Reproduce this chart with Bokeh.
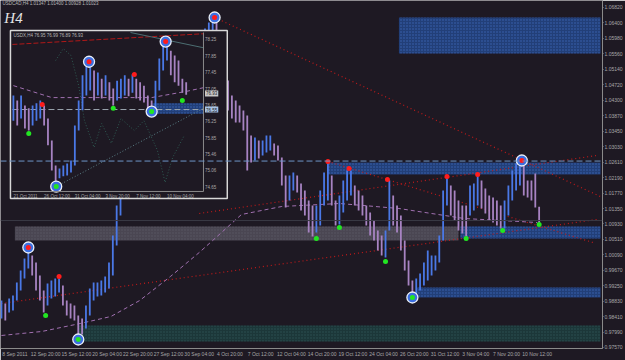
from bokeh.plotting import figure
from bokeh.models import Range1d, FixedTicker, PrintfTickFormatter, Span, Label
from bokeh.embed import file_html
from bokeh.resources import INLINE
from bokeh.core.properties import value

BG = "#1e1923"
UP = "#4a78e6"
DOWN = "#a783c2"
TXT = "#a8a8a8"
FONT = "Liberation Sans"

# ---------------- USDCAD H4 (main chart), every second bar ----------------
bars = list(range(0, 282, 2))
highs = [0.98848, 0.98767, 0.98903, 0.98984, 0.99338, 0.99664, 0.99991, 1.00209, 1.00073, 0.99882,
         0.99528, 0.99120, 0.99311, 0.99392, 0.99447, 0.99447, 0.99256, 0.98848, 0.98767, 0.98712,
         0.98440, 0.98359, 0.98712, 0.99175, 0.99338, 0.99338, 0.99392, 0.99501, 0.99882, 1.00617,
         1.01433, 1.02113, 1.02521, 1.02929, 1.03201, 1.03473, 1.03337, 1.03745, 1.04017, 1.04289,
         1.04425, 1.04562, 1.04834, 1.04698, 1.04970, 1.05106, 1.05378, 1.05242, 1.05514, 1.05650,
         1.05786, 1.05922, 1.06058, 1.06248, 1.06412, 1.06520, 1.06466, 1.06058, 1.05378, 1.04834,
         1.04425, 1.04289, 1.04153, 1.04017, 1.03881, 1.03337, 1.03283, 1.03201, 1.03201, 1.03337,
         1.03337, 1.03120, 1.03065, 1.02739, 1.02249, 1.02249, 1.02331, 1.02249, 1.02031, 1.01841,
         1.01569, 1.01433, 1.01433, 1.01841, 1.02331, 1.02575, 1.02249, 1.01569, 1.01705, 1.02113,
         1.02385, 1.02385, 1.01977, 1.01841, 1.01705, 1.01433, 1.01242, 1.01025, 1.00753, 1.00617,
         1.00753, 1.02113, 1.01705, 1.01433, 1.01161, 1.00481, 0.99936, 0.99392, 0.99447, 0.99583,
         0.99882, 1.00209, 1.00073, 1.00073, 1.00617, 1.01841, 1.02222, 1.01977, 1.01841, 1.01569,
         1.01433, 1.01433, 1.01977, 1.02031, 1.02249, 1.02113, 1.01895, 1.01705, 1.01650, 1.01569,
         1.01433, 1.01569, 1.01977, 1.02385, 1.02575, 1.02603, 1.02521, 1.02113, 1.02113, 1.02303,
         1.01400]
lows = [0.98359, 0.98304, 0.98522, 0.98576, 0.98848, 0.99120, 0.99447, 0.99719, 0.99528, 0.99120,
        0.98848, 0.98522, 0.98712, 0.98903, 0.98957, 0.99066, 0.98712, 0.98440, 0.98359, 0.98304,
        0.97869, 0.97923, 0.98086, 0.98440, 0.98848, 0.98957, 0.98984, 0.99066, 0.99175, 0.99528,
        1.00345, 1.01161, 1.01705, 1.02113, 1.02385, 1.02657, 1.02521, 1.02929, 1.03201, 1.03473,
        1.03609, 1.03881, 1.04017, 1.04017, 1.04289, 1.04425, 1.04562, 1.04562, 1.04834, 1.04970,
        1.05106, 1.05242, 1.05378, 1.05650, 1.05786, 1.05922, 1.05786, 1.05106, 1.04425, 1.04017,
        1.03800, 1.03691, 1.03691, 1.03473, 1.02385, 1.02603, 1.02657, 1.02712, 1.02793, 1.02875,
        1.02929, 1.02793, 1.02657, 1.01977, 1.01378, 1.01569, 1.01841, 1.01786, 1.01297, 1.01161,
        1.00698, 1.00589, 1.00698, 1.00889, 1.01433, 1.01569, 1.01433, 1.00889, 1.00916, 1.01242,
        1.01569, 1.01705, 1.01433, 1.01297, 1.01161, 1.00889, 1.00617, 1.00481, 1.00209, 1.00073,
        1.00018, 1.00753, 1.00889, 1.00698, 1.00209, 0.99664, 0.99256, 0.98984, 0.99039, 0.99120,
        0.99256, 0.99392, 0.99528, 0.99664, 0.99882, 1.00481, 1.01433, 1.01161, 1.01025, 1.00753,
        1.00671, 1.00589, 1.01161, 1.01297, 1.01433, 1.01351, 1.01215, 1.01025, 1.00970, 1.00889,
        1.00807, 1.00807, 1.01161, 1.01569, 1.01841, 1.01977, 1.01705, 1.01650, 1.01569, 1.01378,
        1.00928]

date_ticks = list(range(0, 273, 16))
date_labels = ["8 Sep 2011", "12 Sep 20:00", "15 Sep 12:00", "20 Sep 04:00", "22 Sep 20:00",
               "27 Sep 12:00", "30 Sep 04:00", "4 Oct 20:00", "7 Oct 12:00", "12 Oct 04:00",
               "14 Oct 20:00", "19 Oct 12:00", "24 Oct 04:00", "26 Oct 20:00", "31 Oct 12:00",
               "3 Nov 04:00", "7 Nov 20:00", "10 Nov 12:00"]
price_ticks = [1.06820, 1.06400, 1.05980, 1.05560, 1.05140, 1.04720, 1.04300, 1.03870, 1.03450,
               1.03030, 1.02610, 1.02190, 1.01770, 1.01350, 1.00930, 1.00510, 1.00090, 0.99670,
               0.99250, 0.98830, 0.98410, 0.97990, 0.97570]
header = "USDCAD,H4  1.01347 1.01400 1.00928 1.01023"
last_close = 1.01023
resistance = 1.02642

# moving average
ma_x = [0, 21, 41, 57, 72, 88, 103, 110, 125, 146, 176, 207, 241, 279]
ma_y = [0.97896, 0.98005, 0.98222, 0.98413, 0.98848, 0.99501, 1.00154, 1.00481, 1.01188, 1.01406,
        1.01487, 1.01351, 1.01079, 1.00970]

# dotted trend lines
tl_x0 = [0, 111, 170, 103]
tl_y0 = [0.98767, 1.06547, 1.02630, 1.01215]
tl_x1 = [310, 313, 308, 310]
tl_y1 = [1.01052, 1.01650, 1.00426, 1.02793]

# zones
zone_l = [207, 170, 7, 239, 216, 40]
zone_r = [312, 312, 238, 312, 312, 312]
zone_t = [1.06547, 1.02603, 1.00862, 1.00862, 0.99202, 0.98168]
zone_b = [1.05568, 1.02276, 1.00481, 1.00535, 0.98930, 0.97733]
zone_kind = ["blue", "blue", "grey", "blue", "blue", "teal"]

# swing markers
red_x = [30, 170, 181, 201, 232, 248]
red_y = [0.99501, 1.02630, 1.02439, 1.02140, 1.02222, 1.02276]
green_x = [23, 164, 176, 200, 242, 261, 280]
green_y = [0.98440, 1.00535, 1.00834, 0.99909, 1.00535, 1.00753, 1.00916]
ring_hi_x = [14, 111, 271]
ring_hi_y = [1.00290, 1.06547, 1.02657]
ring_lo_x = [40, 214]
ring_lo_y = [0.97787, 0.98930]

# ---------------- USDX H4 (inset) ----------------
ibars = list(range(0, 92, 2))
ihighs = [76.88, 76.76, 76.88, 76.64, 76.57, 76.64, 76.69, 76.76, 76.64, 76.32, 75.79, 75.18, 75.11,
          75.18, 75.23, 75.30, 76.15, 76.76, 77.37, 77.68, 77.61, 77.49, 77.44, 77.29, 77.37, 77.20,
          77.05, 77.24, 77.29, 77.37, 77.29, 77.39, 77.29, 77.20, 77.12, 76.88, 76.76, 77.24, 77.78,
          78.09, 78.17, 77.97, 77.85, 77.73, 77.29, 77.20]
ilows = [76.27, 76.15, 76.32, 76.08, 76.03, 76.15, 76.27, 76.32, 76.15, 75.67, 75.06, 74.75, 74.87,
         74.92, 74.94, 75.01, 75.18, 76.03, 76.52, 76.88, 77.00, 76.76, 76.88, 76.81, 76.88, 76.76,
         76.64, 76.76, 76.81, 76.88, 76.86, 76.95, 76.81, 76.76, 76.71, 76.57, 76.52, 76.57, 77.00,
         77.49, 77.73, 77.37, 77.20, 77.12, 76.95, 76.90]
i_header = "USDX,H4  76.95 76.99 76.89 76.93"
i_ticks = [78.25, 77.85, 77.45, 77.05, 76.65, 76.25, 75.85, 75.46, 75.06, 74.65]
i_dates_x = [0, 16, 32, 48, 64, 80]
i_dates = ["21 Oct 2011", "26 Oct 12:00", "31 Oct 04:00", "3 Nov 20:00", "7 Nov 12:00", "10 Nov 04:00"]
i_close = 76.93
i_level = 76.54
i_ma_x = [0, 20, 46, 72, 90, 99]
i_ma_y = [77.12, 76.83, 76.83, 76.83, 76.98, 77.07]
i_red_x = [15, 63]
i_red_y = [76.66, 77.39]
i_green_x = [8, 52, 88]
i_green_y = [75.96, 76.57, 76.76]
i_ring_hi_x = [39.4, 79.3]
i_ring_hi_y = [77.70, 78.19]
i_ring_lo_x = [22.3, 72]
i_ring_lo_y = [74.67, 76.49]
i_zone = (72.5, 99, 76.69, 76.44)
i_osc_x = [22, 26, 30, 34, 37, 42, 46, 51, 56, 63, 68, 75, 79, 83, 89]
i_osc_y = [77.73, 78.02, 77.85, 77.12, 76.27, 75.62, 76.20, 75.72, 76.32, 76.03, 76.27, 75.55, 74.77,
           75.38, 75.91]

# ---------------- figure ----------------
p = figure(width=625, height=360, x_range=Range1d(-0.5, 313.0), y_range=Range1d(0.97542, 1.07010),
           y_axis_location="right", output_backend="svg", toolbar_location=None,
           background_fill_color=BG, border_fill_color=BG, min_border_left=0, min_border_top=0,
           min_border_right=20, min_border_bottom=12)
p.grid.visible = False
p.outline_line_color = None

p.yaxis.ticker = FixedTicker(ticks=price_ticks)
p.yaxis.formatter = PrintfTickFormatter(format="%.5f")
p.xaxis.ticker = FixedTicker(ticks=[t + 7 for t in date_ticks])
p.xaxis.major_label_overrides = {t + 7: lab for t, lab in zip(date_ticks, date_labels)}
for ax in (p.xaxis, p.yaxis):
    ax.major_label_text_font = FONT
    ax.major_label_text_font_size = "5px"
    ax.major_label_text_color = TXT
    ax.axis_line_color = "#8a8a8a"
    ax.major_tick_line_color = "#8a8a8a"
    ax.major_tick_out = 1
    ax.major_tick_in = 0
    ax.minor_tick_line_color = None
    ax.major_label_standoff = 1
p.xaxis.major_tick_line_color = None

zc = {"blue": ("#223f78", "#3c64b4"), "grey": ("#4a4652", "#5a5662"), "teal": ("#1c3739", "#2b5254")}
p.quad(left=zone_l, right=zone_r, top=zone_t, bottom=zone_b,
       fill_color=[zc[k][0] for k in zone_kind], hatch_color=[zc[k][1] for k in zone_kind],
       hatch_pattern=".", hatch_scale=3, hatch_weight=1, line_color=None)

p.add_layout(Span(location=last_close, dimension="width", line_color="#3a3a46", line_width=1))
p.add_layout(Span(location=resistance, dimension="width", line_color="#6e96c8", line_width=1,
                  line_dash="6 3"))

p.segment(x0=tl_x0, y0=tl_y0, x1=tl_x1, y1=tl_y1, line_color="#c01a1a", line_width=1.2,
          line_dash="1 3")
p.line(ma_x, ma_y, line_color="#a070b0", line_width=1, line_dash="4 3")

mids = [(h + l) / 2 for h, l in zip(highs, lows)]
cols = [UP if i == 0 or mids[i] >= mids[i - 1] else DOWN for i in range(len(mids))]
p.segment(x0=bars, x1=bars, y0=lows, y1=highs, line_color=cols, line_width=1.8)

p.scatter(red_x, red_y, size=5, fill_color="#ff1c1c", line_color=None)
p.scatter(green_x, green_y, size=5, fill_color="#22e622", line_color=None)
for xs, ys, c in ((ring_hi_x, ring_hi_y, "#ff1c1c"), (ring_lo_x, ring_lo_y, "#22e622")):
    p.scatter(xs, ys, size=11, fill_color="#3c6ee0", line_color="#e8eef8", line_width=1.3)
    p.scatter(xs, ys, size=5, fill_color=c, line_color=None)

# ---------------- inset ----------------
p.quad(left=4.68, right=117.6, top=1.06194, bottom=1.01623, fill_color=BG,
       line_color="#d8d8d8", line_width=1.5)
ins = p.subplot(x_source=Range1d(-0.5, 99), y_source=Range1d(74.55, 78.41),
                x_target=Range1d(5.72, 105.2), y_target=Range1d(1.01814, 1.06139))
ins.quad(left=[i_zone[0]], right=[i_zone[1]], top=[i_zone[2]], bottom=[i_zone[3]],
         fill_color="#223f78", hatch_color="#3c64b4", hatch_pattern=".", hatch_scale=3, line_color=None)
ins.segment(x0=[-0.5], x1=[99], y0=[i_level], y1=[i_level], line_color="#9aa4ae", line_dash="6 3")
ins.segment(x0=[-0.5], x1=[99], y0=[78.12], y1=[78.38], line_color="#b01818", line_dash="5 2")
ins.segment(x0=[22.3], x1=[99], y0=[74.67], y1=[76.57], line_color="#5a7f86", line_dash="1 2")
ins.segment(x0=[61], x1=[99], y0=[78.41], y1=[78.04], line_color="#4c6e72")
ins.line(i_osc_x, i_osc_y, line_color="#2e5a52", line_dash="1 2")
ins.line(i_ma_x, i_ma_y, line_color="#a070b0", line_dash="4 3")
imids = [(h + l) / 2 for h, l in zip(ihighs, ilows)]
icols = [UP if i == 0 or imids[i] >= imids[i - 1] else DOWN for i in range(len(imids))]
ins.segment(x0=ibars, x1=ibars, y0=ilows, y1=ihighs, line_color=icols, line_width=1.8)
ins.scatter(i_red_x, i_red_y, size=5, fill_color="#ff1c1c", line_color=None)
ins.scatter(i_green_x, i_green_y, size=5, fill_color="#22e622", line_color=None)
for xs, ys, c in ((i_ring_hi_x, i_ring_hi_y, "#ff1c1c"), (i_ring_lo_x, i_ring_lo_y, "#22e622")):
    ins.scatter(xs, ys, size=11, fill_color="#3c6ee0", line_color="#e8eef8", line_width=1.3)
    ins.scatter(xs, ys, size=5, fill_color=c, line_color=None)
ins.segment(x0=[99, -0.5], x1=[99, 99], y0=[74.55, 74.55], y1=[78.41, 74.55], line_color="#8a8a8a")
ins.text(x=[99.8] * len(i_ticks), y=i_ticks, text=[f"{t:.2f}" for t in i_ticks],
         text_font=value(FONT), text_font_size="4.5px", text_color=TXT, text_baseline="middle")
ins.text(x=[99.8, 99.8], y=[i_close, i_level], text=[f"{i_close:.2f}", f"{i_level + 0.01:.2f}"],
         text_font=value(FONT), text_font_size="4.5px", text_color="#1e1923", text_baseline="middle",
         background_fill_color=["#c8c8c8", "#a8c4e4"], padding=1)
ins.text(x=i_dates_x, y=[74.5] * len(i_dates), text=i_dates, text_font=value(FONT),
         text_font_size="4.5px", text_color=TXT, text_baseline="top")
ins.text(x=[0], y=[78.4], text=[i_header], text_font=value(FONT), text_font_size="4.5px",
         text_color="#b8b8b8", text_baseline="top")

# ---------------- texts ----------------
p.add_layout(Label(x=0.5, y=1.0699, text=header, text_font=FONT, text_font_size="4.5px",
                   text_color="#b8b8b8", text_baseline="top"))
p.add_layout(Label(x=1.5, y=1.0676, text="H4", text_font="Liberation Serif", text_font_size="15px",
                   text_font_style="italic", text_color="#e4e4e4", text_baseline="top"))
p.add_layout(Label(x=313.6, y=resistance, text=f"{resistance:.5f}", text_font=FONT,
                   text_font_size="5px", text_color="#ffffff", text_baseline="middle",
                   background_fill_color="#7fa4d6", padding=1))
p.add_layout(Label(x=313.6, y=last_close, text=f"{last_close:.5f}", text_font=FONT,
                   text_font_size="5px", text_color="#1e1923", text_baseline="middle",
                   background_fill_color="#b4b4b4", padding=1))

open("out.html", "w").write(file_html(p, INLINE))
